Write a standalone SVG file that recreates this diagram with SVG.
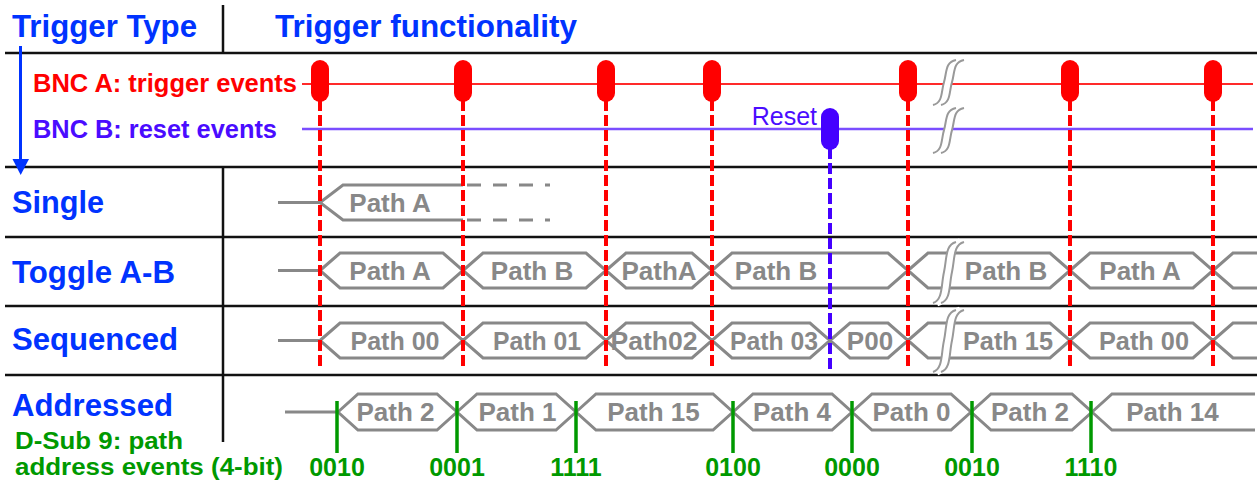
<svg xmlns="http://www.w3.org/2000/svg" width="1257" height="484" viewBox="0 0 1257 484">
<style>
text{font-family:"Liberation Sans",Arial,sans-serif;font-weight:bold}
.hd{fill:#0033ff;font-size:31px}
.bnc{font-size:26px}
.grid{stroke:#111;stroke-width:2.5;fill:none}
.wave{fill:none;stroke:#888;stroke-width:3}
.pl{font-size:26px;fill:#888;text-anchor:middle}
.gr{font-size:23px;fill:#009900}
.gd{font-size:25px;fill:#009900;text-anchor:middle}
.rd{stroke:#ff0000;stroke-width:4;stroke-dasharray:11 4;fill:none}
.bd{stroke:#4400ff;stroke-width:4;stroke-dasharray:11 4;fill:none}
.gl{stroke:#009900;stroke-width:3.5;fill:none}
.pr{fill:#ff0000}
.pb{fill:#4400ff}
.bw{fill:none;stroke:#fff;stroke-width:7}
.bc{fill:none;stroke:#999;stroke-width:2}
</style>
<defs>
<g id="brk">
<path class="bw" vector-effect="non-scaling-stroke" d="M4,61 C14,58 12,43 15,30 C18,16 16,3 27,0"/>
<path class="bc" vector-effect="non-scaling-stroke" d="M0,61 C10,58 8,43 11,30 C14,16 12,3 23,0"/>
<path class="bc" vector-effect="non-scaling-stroke" d="M8,61 C18,58 16,43 19,30 C22,16 20,3 31,0"/>
</g>
</defs>

<g id="grid">
<path class="grid" d="M5,53 H1257 M5,167 H1257 M5,237 H1257 M5,306 H1257 M5,375 H1257 M223,5 V53 M223,167 V442"/>
</g>

<g id="header">
<text class="hd" x="12" y="37" textLength="185" lengthAdjust="spacingAndGlyphs">Trigger Type</text>
<text class="hd" x="275" y="37" textLength="302" lengthAdjust="spacingAndGlyphs">Trigger functionality</text>
</g>

<g id="type-arrow">
<path d="M20.5,46 V162" stroke="#0033ff" stroke-width="3" fill="none"/>
<polygon points="12.5,159 29,159 20.7,175" fill="#0033ff"/>
</g>

<g id="row-labels">
<text class="hd" x="12" y="213" textLength="92" lengthAdjust="spacingAndGlyphs">Single</text>
<text class="hd" x="12" y="283" textLength="163" lengthAdjust="spacingAndGlyphs">Toggle A-B</text>
<text class="hd" x="12" y="350" textLength="166" lengthAdjust="spacingAndGlyphs">Sequenced</text>
<text class="hd" x="12" y="416" textLength="161" lengthAdjust="spacingAndGlyphs">Addressed</text>
<text class="gr" x="15" y="449" textLength="168" lengthAdjust="spacingAndGlyphs">D-Sub 9: path</text>
<text class="gr" x="15" y="475" textLength="268" lengthAdjust="spacingAndGlyphs">address events (4-bit)</text>
</g>

<g id="bnc-a">
<text class="bnc" x="33" y="92" fill="#ff0000" textLength="264" lengthAdjust="spacingAndGlyphs">BNC A: trigger events</text>
<path d="M302,84 H1253" stroke="#ff2a2a" stroke-width="2" fill="none"/>
</g>

<g id="bnc-b">
<text class="bnc" x="33" y="138" fill="#4a0cff" textLength="244" lengthAdjust="spacingAndGlyphs">BNC B: reset events</text>
<path d="M302,129 H1253" stroke="#7a4dff" stroke-width="2.5" fill="none"/>
</g>

<g id="single">
<path class="wave" d="M278,202.5 H320 M463,185 H343 L320,202.5 L343,220 H463"/>
<path class="wave" stroke-dasharray="14 12" d="M467,185 H550 M467,220 H550"/>
<text class="pl" x="390" y="211.5">Path A</text>
</g>

<g id="toggle">
<path class="wave" d="M278,270.5 H320
M320,270.5 L340,253 H443 L463,270.5 L443,288 H340 Z
M463,270.5 L483,253 H586 L606,270.5 L586,288 H483 Z
M606,270.5 L626,253 H692 L712,270.5 L692,288 H626 Z
M712,270.5 L732,253 H888 L908,270.5 L888,288 H732 Z
M908,270.5 L928,253 H1050 L1070,270.5 L1050,288 H928 Z
M1070,270.5 L1090,253 H1193 L1213,270.5 L1193,288 H1090 Z
M1213,270.5 L1233,253 H1257 M1213,270.5 L1233,288 H1257"/>
<text class="pl" x="390" y="279.5">Path A</text>
<text class="pl" x="532" y="279.5">Path B</text>
<text class="pl" x="659" y="279.5">PathA</text>
<text class="pl" x="776" y="279.5">Path B</text>
<text class="pl" x="1006" y="279.5">Path B</text>
<text class="pl" x="1140" y="279.5">Path A</text>
</g>

<g id="sequenced">
<path class="wave" d="M278,340.5 H320
M320,340.5 L340,323 H443 L463,340.5 L443,358 H340 Z
M463,340.5 L483,323 H586 L606,340.5 L586,358 H483 Z
M606,340.5 L626,323 H692 L712,340.5 L692,358 H626 Z
M712,340.5 L732,323 H810 L830,340.5 L810,358 H732 Z
M830,340.5 L850,323 H888 L908,340.5 L888,358 H850 Z
M908,340.5 L928,323 H1050 L1070,340.5 L1050,358 H928 Z
M1070,340.5 L1090,323 H1193 L1213,340.5 L1193,358 H1090 Z
M1213,340.5 L1233,323 H1257 M1213,340.5 L1233,358 H1257"/>
<text class="pl" x="395" y="349.5" textLength="89" lengthAdjust="spacingAndGlyphs">Path 00</text>
<text class="pl" x="537" y="349.5" textLength="88" lengthAdjust="spacingAndGlyphs">Path 01</text>
<text class="pl" x="654" y="349.5" textLength="87" lengthAdjust="spacingAndGlyphs">Path02</text>
<text class="pl" x="774" y="349.5" textLength="88" lengthAdjust="spacingAndGlyphs">Path 03</text>
<text class="pl" x="870" y="349.5">P00</text>
<text class="pl" x="1008" y="349.5" textLength="90" lengthAdjust="spacingAndGlyphs">Path 15</text>
<text class="pl" x="1144" y="349.5" textLength="90" lengthAdjust="spacingAndGlyphs">Path 00</text>
</g>

<g id="addressed">
<path class="wave" d="M285,412 H338
M338,412 L358,394 H437 L457,412 L437,430 H358 Z
M457,412 L477,394 H556 L576,412 L556,430 H477 Z
M576,412 L596,394 H713 L733,412 L713,430 H596 Z
M733,412 L753,394 H832 L852,412 L832,430 H753 Z
M852,412 L872,394 H951 L971,412 L951,430 H872 Z
M971,412 L991,394 H1072 L1092,412 L1072,430 H991 Z
M1092,412 L1112,394 H1255 M1092,412 L1112,430 H1255"/>
<text class="pl" x="395.5" y="421">Path 2</text>
<text class="pl" x="517.5" y="421">Path 1</text>
<text class="pl" x="653.5" y="421">Path 15</text>
<text class="pl" x="792" y="421">Path 4</text>
<text class="pl" x="911.5" y="421">Path 0</text>
<text class="pl" x="1030" y="421">Path 2</text>
<text class="pl" x="1172.5" y="421">Path 14</text>
</g>

<g id="breaks">
<use href="#brk" transform="translate(933,60) scale(1,0.738)"/>
<use href="#brk" transform="translate(933,108) scale(1,0.738)"/>
<use href="#brk" transform="translate(933,242)"/>
<use href="#brk" transform="translate(933,310) scale(1,1.016)"/>
</g>

<g id="connectors">
<path class="rd" d="M320,100 V369 M463,100 V369 M606,100 V369 M712,100 V369 M908,100 V369 M1070,100 V369 M1213,100 V369"/>
<path class="bd" d="M830,148 V370"/>
<path class="gl" d="M337,401 V453 M457,401 V453 M576,401 V453 M733,401 V453 M852,401 V453 M972,401 V453 M1091,401 V453"/>
</g>

<g id="trigger-markers">
<rect class="pr" x="311" y="60" width="18" height="42" rx="9"/>
<rect class="pr" x="454" y="60" width="18" height="42" rx="9"/>
<rect class="pr" x="597" y="60" width="18" height="42" rx="9"/>
<rect class="pr" x="703" y="60" width="18" height="42" rx="9"/>
<rect class="pr" x="899" y="60" width="18" height="42" rx="9"/>
<rect class="pr" x="1061" y="60" width="18" height="42" rx="9"/>
<rect class="pr" x="1204" y="60" width="18" height="42" rx="9"/>
</g>

<g id="reset-marker">
<rect class="pb" x="821" y="108" width="18" height="42" rx="9"/>
<text x="817" y="125" font-size="25" fill="#4a0cff" text-anchor="end" style="font-weight:normal">Reset</text>
</g>

<g id="address-codes">
<text class="gd" x="337" y="476">0010</text>
<text class="gd" x="457" y="476">0001</text>
<text class="gd" x="576" y="476">1111</text>
<text class="gd" x="733" y="476">0100</text>
<text class="gd" x="852" y="476">0000</text>
<text class="gd" x="972" y="476">0010</text>
<text class="gd" x="1091" y="476">1110</text>
</g>
</svg>
